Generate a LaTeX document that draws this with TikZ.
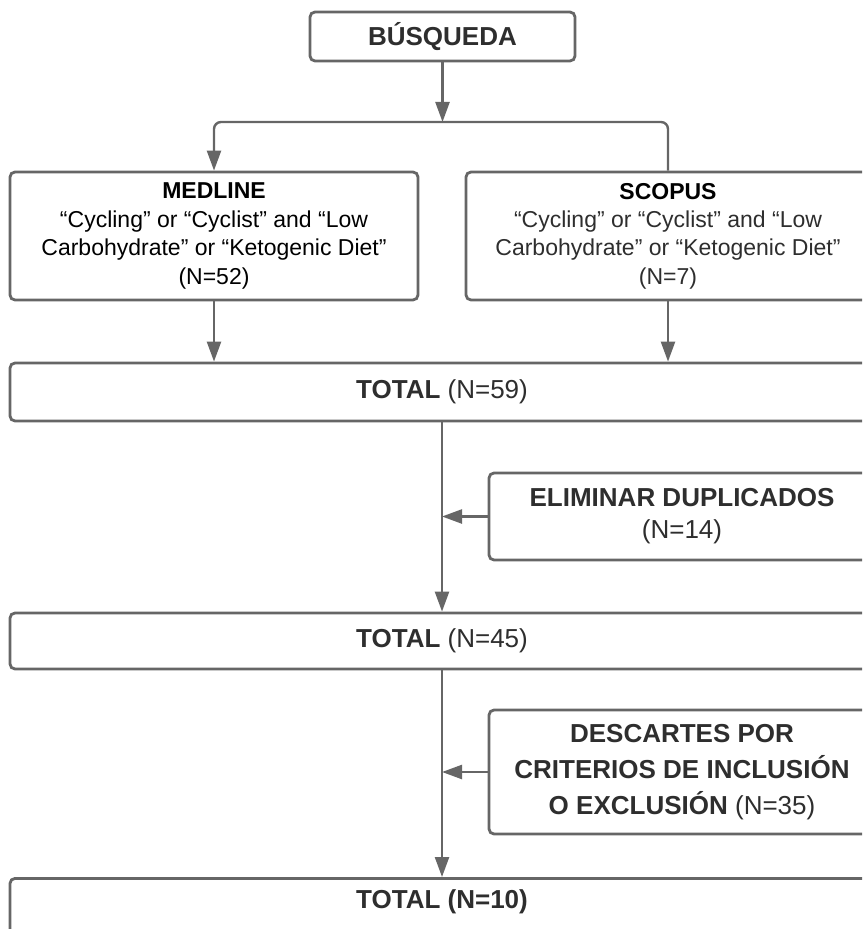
\documentclass[tikz,border=0pt]{standalone}
\usepackage{fontspec}
\setmainfont{Liberation Sans}
\usetikzlibrary{
  arrows.meta,
  positioning
}
\definecolor{linegray}{HTML}{666666}
\definecolor{textgray}{HTML}{2E2E2E}
\tikzset{
  x=0.5pt,
  y=-0.5pt,
  on grid,
  >={Triangle[length=10pt,width=7pt]},
  % styles
  box/.style={
    draw=linegray,
    line width=1.4pt,
    rounded corners=2.5pt,
    fill=white,
    inner sep=0pt,
    align=center,
    text=textgray,
    font=\fontsize{13}{16}\selectfont,
  },
  source box/.style={
    box,
    minimum height=64pt,
    font=\fontsize{11.5}{14.2}\selectfont,
  },
  wide box/.style={
    box,
    minimum width=432pt,
  },
  side box/.style={
    box,
    minimum width=193pt,
  },
  flow/.style={
    draw=linegray,
    line width=1.2pt,
    ->,
  }
}
\newcommand{\hd}[1]{{\bfseries #1}}

\begin{document}
\begin{tikzpicture}
  \clip (0,0) rectangle (862,929);
  \useasboundingbox (0,0) rectangle (862,929);

  % search boxes
  \node [box, minimum width=132.5pt, minimum height=24.5pt] (busq) at (442.5,36.5) {\hd{BÚSQUEDA}};
  \node [source box, minimum width=204pt, text=black] (medline) at (214,236)
    {\hd{MEDLINE}\\
     “Cycling” or “Cyclist” and “Low\\
     Carbohydrate” or “Ketogenic Diet”\\
     (N=52)};
  \node [source box, minimum width=202pt] (scopus) at (668,236)
    {\hd{\color{black}SCOPUS}\\
     “Cycling” or “Cyclist” and “Low\\
     Carbohydrate” or “Ketogenic Diet”\\
     (N=7)};

  % totals
  \node [wide box, minimum height=29pt] (tot1) at (442,392) {\hd{TOTAL} (N=59)};
  \node [wide box, minimum height=28pt] (tot2) [below=124.5pt of tot1] {\hd{TOTAL} (N=45)};
  \node [wide box, anchor=north, text height=14.8pt, text depth=20pt] (tot3) at (442,877)
    {\hd{TOTAL (N=10)}};

  % removals
  \node [side box, minimum height=43.5pt] (elim) at (682,516.5)
    {\hd{ELIMINAR DUPLICADOS}\\ (N=14)};
  \node [side box, minimum height=62pt, font=\fontsize{13}{18}\selectfont] (desc) [below=127.75pt of elim]
    {\hd{DESCARTES POR}\\ \hd{CRITERIOS DE INCLUSIÓN}\\ \hd{O EXCLUSIÓN} (N=35)};

  % connectors
  \coordinate (split) at (442.5,122);
  \draw [flow] (busq) -- (split);
  \draw [flow, rounded corners=3.5pt] (scopus.north) |- (split) -| (medline.north);
  \draw [flow] (medline) -- (medline |- tot1.north);
  \draw [flow] (scopus) -- (scopus |- tot1.north);
  \draw [flow] (tot1) -- (tot2);
  \draw [flow] (elim) -- (elim -| tot1);
  \draw [flow] (tot2) -- (tot3);
  \draw [flow] (desc) -- (desc -| tot2);
\end{tikzpicture}
\end{document}
